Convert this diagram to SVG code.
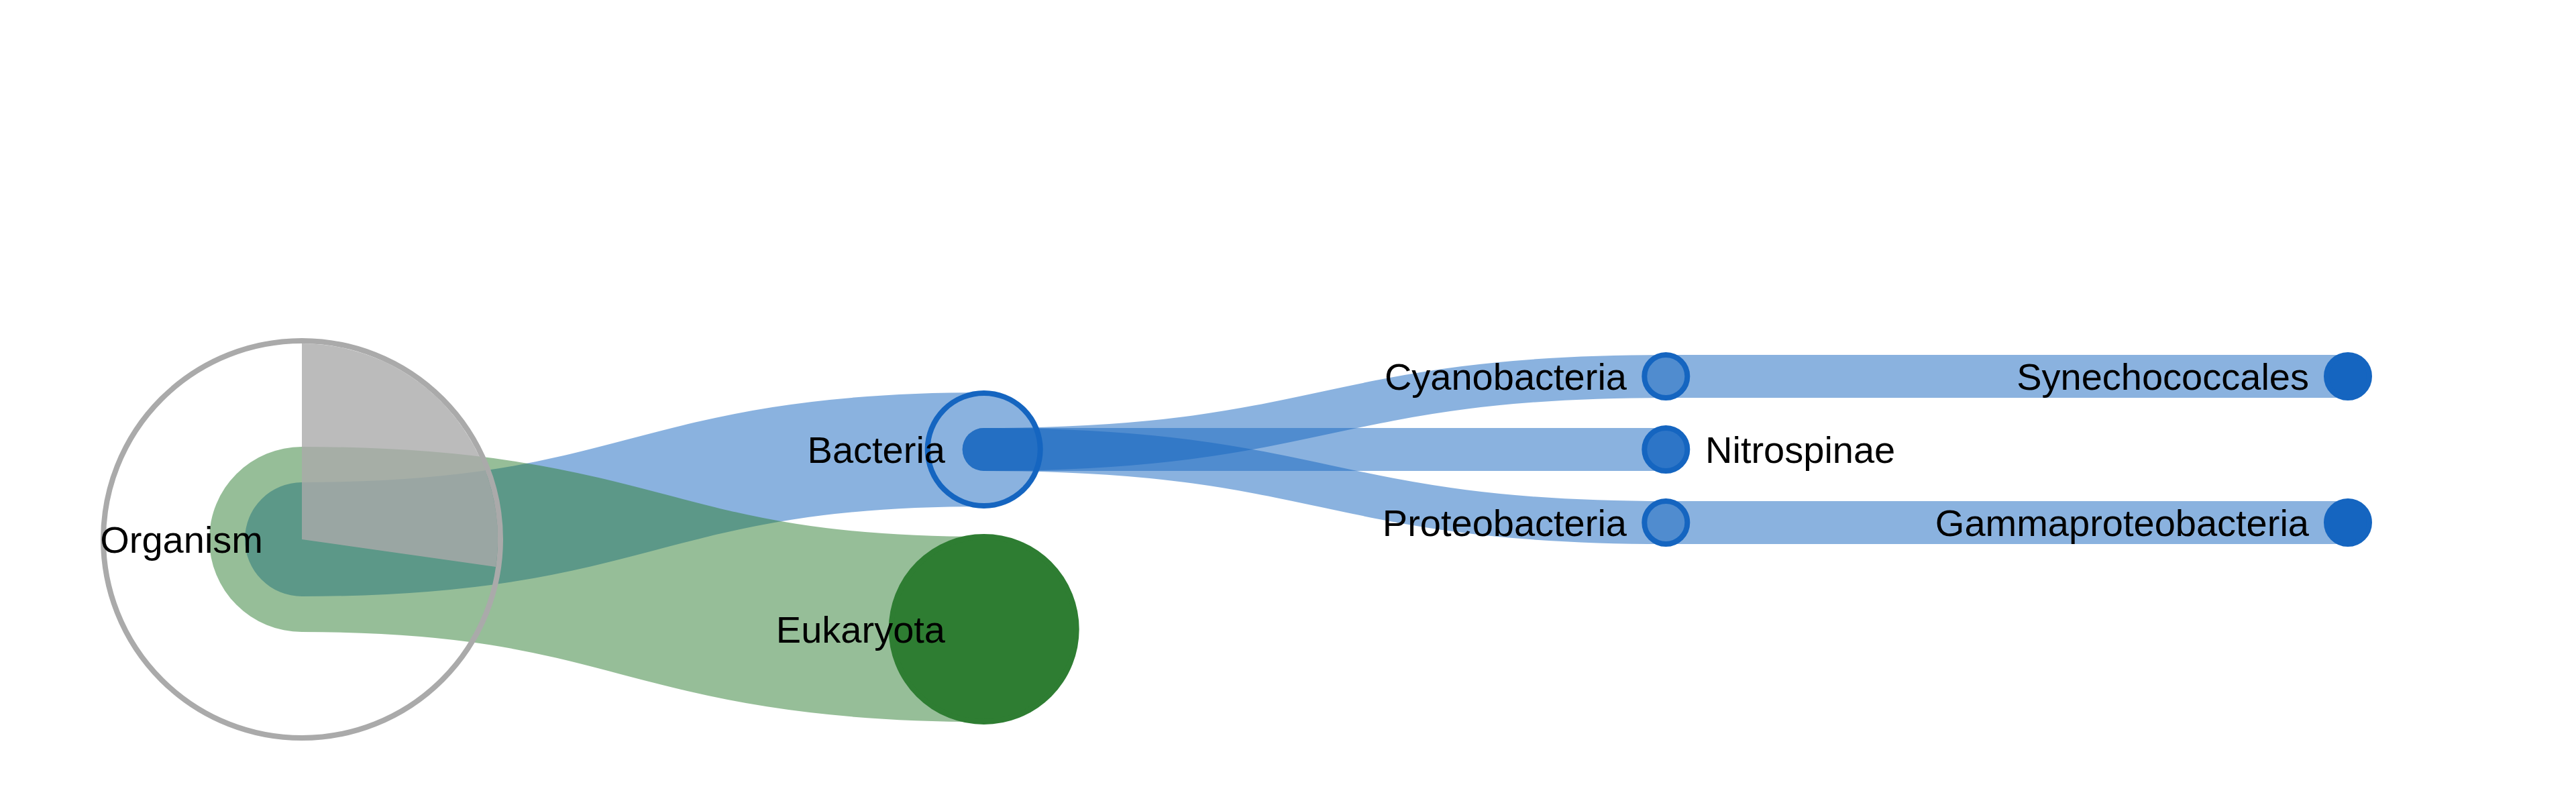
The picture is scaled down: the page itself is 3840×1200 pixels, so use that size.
<svg xmlns="http://www.w3.org/2000/svg" width="3840" height="1200" viewBox="0 0 3840 1200">
<style>
.link{fill:none;stroke-linecap:round;stroke-opacity:0.5}
.blue{stroke:#1565c0}
.green{stroke:#2e7d32}
.node{stroke-width:8}
.lbl{font-family:"Liberation Sans",Arial,Helvetica,sans-serif;font-size:56px;fill:#000}
.end{text-anchor:end}
.start{text-anchor:start}
</style>
<rect width="3840" height="1200" fill="#ffffff"/>
<g id="links">
<path class="link blue" stroke-width="170" d="M450,804 C958.3,804 958.3,670 1466.7,670"/>
<path class="link green" stroke-width="276" d="M450,804 C958.3,804 958.3,938 1466.7,938"/>
<path class="link blue" stroke-width="64" d="M1466.7,670 C1975,670 1975,561 2483.3,561"/>
<path class="link blue" stroke-width="64" d="M1466.7,670 C1975,670 1975,670 2483.3,670"/>
<path class="link blue" stroke-width="64" d="M1466.7,670 C1975,670 1975,779 2483.3,779"/>
<path class="link blue" stroke-width="64" d="M2483.3,561 L3500,561"/>
<path class="link blue" stroke-width="64" d="M2483.3,779 L3500,779"/>
</g>
<g id="node-organism">
<circle class="node" cx="450" cy="804" r="296" fill="none" stroke="#aaaaaa"/>
<path d="M450,804 L450,512 A292,292 0 0 1 739.1,844.9 Z" fill="#aaaaaa" fill-opacity="0.8"/>
<text class="lbl end" x="392" y="824">Organism</text>
</g>
<g id="node-bacteria">
<circle class="node" cx="1466.7" cy="670" r="84" fill="none" stroke="#1565c0"/>
<text class="lbl end" x="1409" y="690">Bacteria</text>
</g>
<g id="node-eukaryota">
<circle class="node" cx="1466.7" cy="938" r="138" fill="#2e7d32" stroke="#2e7d32"/>
<text class="lbl end" x="1409" y="958">Eukaryota</text>
</g>
<g id="node-cyanobacteria">
<circle class="node" cx="2483.3" cy="561" r="32" fill="none" stroke="#1565c0"/>
<text class="lbl end" x="2425" y="581">Cyanobacteria</text>
</g>
<g id="node-nitrospinae">
<circle class="node" cx="2483.3" cy="670" r="32" fill="#1565c0" fill-opacity="0.8" stroke="#1565c0"/>
<text class="lbl start" x="2542" y="690">Nitrospinae</text>
</g>
<g id="node-proteobacteria">
<circle class="node" cx="2483.3" cy="779" r="32" fill="none" stroke="#1565c0"/>
<text class="lbl end" x="2425" y="799">Proteobacteria</text>
</g>
<g id="node-synechococcales">
<circle class="node" cx="3500" cy="561" r="32" fill="#1565c0" stroke="#1565c0"/>
<text class="lbl end" x="3442" y="581">Synechococcales</text>
</g>
<g id="node-gammaproteobacteria">
<circle class="node" cx="3500" cy="779" r="32" fill="#1565c0" stroke="#1565c0"/>
<text class="lbl end" x="3442" y="799">Gammaproteobacteria</text>
</g>
</svg>
